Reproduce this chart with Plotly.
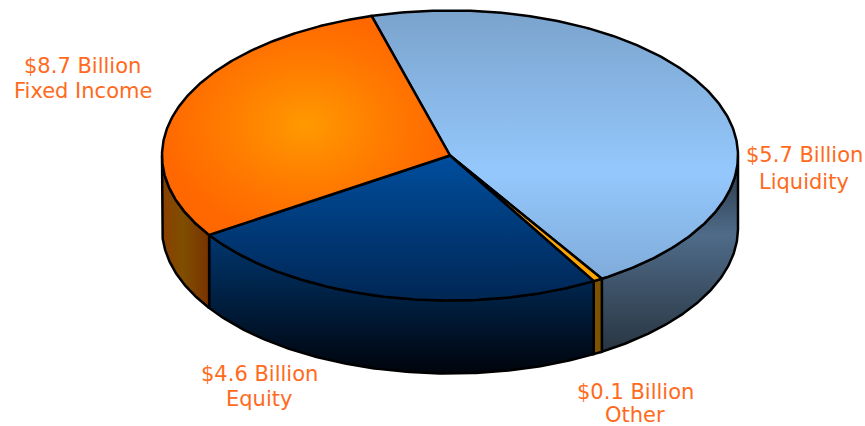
import numpy as np
import plotly.graph_objects as go

# Slice sizes in billions, clockwise from the start angle
slice_values = [8.7, 0.1, 4.6, 5.7]

# Captions: one entry per label, each drawn on two lines
label_amounts = [8.7, 5.7, 4.6, 0.1]
label_names = ["Fixed Income", "Liquidity", "Equity", "Other"]
label_x = [82.5, 804, 259, 635]
label_y_amount = [66, 155, 374, 392]
label_y_name = [91, 182, 399, 415]

# Pie geometry in page pixels
CX, CY = 450, 155.5
RX, RY = 288, 145
DEPTH = 73
START_DEG = -15.8
OUTLINE = dict(color="black", width=2.5)
LABEL_COLOR = "#FF6A1C"
LABEL_FONT = dict(family="DejaVu Sans", size=21, color=LABEL_COLOR)

# Top faces: gradient type, colour stops, gradient span
top_fills = [
    dict(type="vertical", start=10, stop=280,
         colorscale=[[0, "#7AA3CC"], [0.6, "#95C8FD"], [1, "#7FABD9"]]),
    dict(type="vertical", start=155, stop=285,
         colorscale=[[0, "#FFA500"], [1, "#FFA500"]]),
    dict(type="vertical", start=155, stop=300,
         colorscale=[[0, "#004E9E"], [1, "#002654"]]),
    dict(type="radial",
         colorscale=[[0, "#FF9900"], [0.55, "#FF7C00"], [1, "#FF6800"]]),
]

# Side walls
side_fills = [
    dict(type="vertical", start=185, stop=350,
         colorscale=[[0, "#34465A"], [0.3, "#4F6B89"], [1, "#293642"]]),
    dict(type="vertical", start=280, stop=352,
         colorscale=[[0, "#7F5200"], [1, "#7F5200"]]),
    dict(type="vertical", start=235, stop=373,
         colorscale=[[0, "#00376F"], [1, "#00040C"]]),
    dict(type="horizontal", start=162, stop=208,
         colorscale=[[0, "#8A3F00"], [0.45, "#7F4E00"], [1, "#7A3400"]]),
]


def rim(t_deg, dy=0.0):
    t = np.radians(t_deg)
    return CX + RX * np.sin(t), CY - RY * np.cos(t) + dy


bounds = START_DEG + np.concatenate([[0], np.cumsum(slice_values)]) / sum(slice_values) * 360

fig = go.Figure()

# Side walls first: only the front half of the rim (90 to 270 degrees) is visible
for (a0, a1), fill in zip(zip(bounds[:-1], bounds[1:]), side_fills):
    lo, hi = max(a0, 90), min(a1, 270)
    if lo >= hi:
        continue
    t = np.linspace(lo, hi, 120)
    xt, yt = rim(t)
    xb, yb = rim(t[::-1], DEPTH)
    fig.add_trace(go.Scatter(
        x=np.r_[xt, xb, xt[0]], y=np.r_[yt, yb, yt[0]],
        mode="lines", fill="toself", line=OUTLINE, fillgradient=fill,
        hoverinfo="skip", showlegend=False))

# Top faces
for (a0, a1), fill in zip(zip(bounds[:-1], bounds[1:]), top_fills):
    t = np.linspace(a0, a1, 240)
    xa, ya = rim(t)
    fig.add_trace(go.Scatter(
        x=np.r_[CX, xa, CX], y=np.r_[CY, ya, CY],
        mode="lines", fill="toself", line=OUTLINE, fillgradient=fill,
        hoverinfo="skip", showlegend=False))

# Each caption line is placed on its own so the line spacing stays tight
for amount, name, x, y0, y1 in zip(label_amounts, label_names, label_x,
                                   label_y_amount, label_y_name):
    fig.add_annotation(x=x, y=y0, xref="x", yref="y", showarrow=False,
                       text=f"${amount} Billion", font=LABEL_FONT)
    fig.add_annotation(x=x, y=y1, xref="x", yref="y", showarrow=False,
                       text=name, font=LABEL_FONT)

fig.update_layout(
    width=865, height=426, margin=dict(l=0, r=0, t=0, b=0),
    paper_bgcolor="white", plot_bgcolor="white", showlegend=False,
    xaxis=dict(range=[0, 865], visible=False, fixedrange=True),
    yaxis=dict(range=[426, 0], visible=False, fixedrange=True),
)

fig.write_html("out.html", config={"displayModeBar": False})
